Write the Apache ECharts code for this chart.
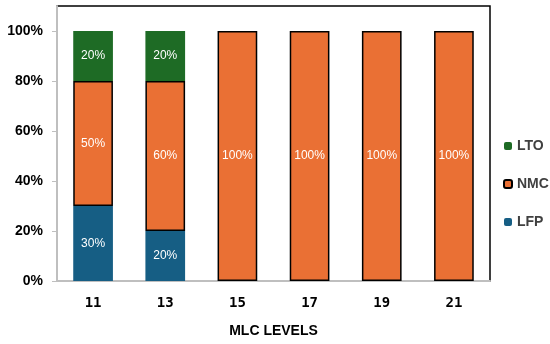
<!DOCTYPE html>
<html><head><meta charset="utf-8">
<script src="https://cdn.jsdelivr.net/npm/echarts@6/dist/echarts.min.js"></script>
<style>html,body{margin:0;padding:0;background:#fff}#c{width:550px;height:344px}</style>
</head><body><div id="c"></div>
<script>
const categories = ['11', '13', '15', '17', '19', '21'];
const lfp = [30, 20, 0, 0, 0, 0];
const nmc = [50, 60, 100, 100, 100, 100];
const lto = [20, 20, 0, 0, 0, 0];
const yTicks = [0, 20, 40, 60, 80, 100];

const chart = echarts.init(document.getElementById('c'));
const lbl = {
  show: true, color: '#fff', fontSize: 12, fontFamily: "'Liberation Sans', Arial, sans-serif",
  formatter: p => p.value ? p.value + '%' : ''
};
chart.setOption({
  animation: false,
  grid: { left: 57, right: 60, top: 6, bottom: 63, show: true, borderColor: '#000', borderWidth: 1.5, backgroundColor: 'transparent' },
  legend: {
    orient: 'vertical', left: 498, top: 134, itemGap: 24, itemWidth: 8, itemHeight: 8,
    data: ['LTO', 'NMC', 'LFP'],
    textStyle: { color: '#404040', fontSize: 14, fontWeight: 'bold', fontFamily: "'Liberation Sans', Arial, sans-serif" }
  },
  xAxis: {
    type: 'category', data: categories,
    axisLine: { lineStyle: { color: '#bfbfbf', width: 2 } },
    axisTick: { show: false },
    axisLabel: { margin: 15, color: '#000', fontSize: 14, fontWeight: 'bold', fontFamily: "'DejaVu Sans Mono', monospace" },
    name: 'MLC LEVELS', nameLocation: 'middle', nameGap: 43,
    nameTextStyle: { color: '#000', fontSize: 14, fontWeight: 'bold', fontFamily: "'Liberation Sans', Arial, sans-serif" }
  },
  yAxis: {
    type: 'value', min: 0, max: 110, interval: 20,
    splitLine: { show: false },
    axisLine: { show: true, lineStyle: { color: '#bfbfbf', width: 2 } },
    axisTick: { show: true, length: 5, customValues: yTicks, lineStyle: { color: '#bfbfbf' } },
    axisLabel: { customValues: yTicks, margin: 14, color: '#000', fontSize: 14, fontWeight: 'bold', fontFamily: "'Liberation Sans', Arial, sans-serif", formatter: v => v + '%' }
  },
  series: [
    { name: 'LFP', type: 'bar', stack: 's', data: lfp, barWidth: '55%', itemStyle: { color: '#165e84' }, label: lbl },
    { name: 'NMC', type: 'bar', stack: 's', data: nmc, barWidth: '55%', itemStyle: { color: '#ea7034', borderColor: '#000', borderWidth: 1.5 }, label: lbl },
    { name: 'LTO', type: 'bar', stack: 's', data: lto, barWidth: '55%', itemStyle: { color: '#1e6b25' }, label: lbl }
  ]
});
</script></body></html>
